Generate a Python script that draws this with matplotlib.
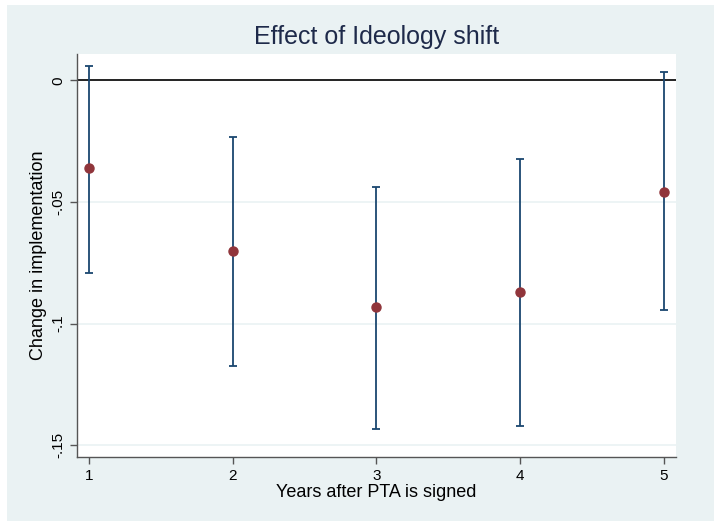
import numpy as np
import matplotlib.pyplot as plt
from matplotlib.patches import Rectangle

# values
years = [1, 2, 3, 4, 5]
effect = [-0.036, -0.070, -0.093, -0.087, -0.046]
ci_low = [-0.079, -0.1175, -0.1434, -0.142, -0.0945]
ci_high = [0.0058, -0.0234, -0.044, -0.0325, 0.0035]
yticks = [0, -0.05, -0.1, -0.15]
ytick_labels = ['0', '-.05', '-.1', '-.15']

plt.rcParams['font.family'] = ['Liberation Sans', 'DejaVu Sans']

bg = '#EAF2F3'
navy = '#1A476F'
maroon = '#90353B'

fig = plt.figure(figsize=(7.14, 5.21), dpi=100)
fig.patch.set_facecolor('white')
fig.add_artist(Rectangle((7 / 714, 0), 1, 516 / 521, transform=fig.transFigure,
                         facecolor=bg, edgecolor='none', zorder=-5))

ax = fig.add_axes([77 / 714, 64 / 521, 599 / 714, 403 / 521])
ax.set_zorder(2)
ax.set_facecolor('white')

effect = np.array(effect)
err = [effect - np.array(ci_low), np.array(ci_high) - effect]

for y in yticks[1:]:
    ax.axhline(y, color=bg, lw=1.2, zorder=1)
ax.axhline(0, color='#222222', lw=1.4, zorder=2)

ax.errorbar(years, effect, yerr=err, fmt='none', ecolor=navy, elinewidth=1.3,
            capsize=3, capthick=1.3, zorder=3)
ax.plot(years, effect, 'o', color=maroon, markersize=6.5, zorder=4)

ax.set_xlim(0.9165, 5.086)
ax.set_ylim(-0.1549, 0.0109)
ax.set_xticks(years)
ax.set_yticks(yticks)
ax.set_yticklabels(ytick_labels, rotation=90, va='center')

for s in ['top', 'right']:
    ax.spines[s].set_visible(False)
for s in ['left', 'bottom']:
    ax.spines[s].set_color('#555555')
    ax.spines[s].set_linewidth(1.0)
ax.tick_params(direction='out', length=5, width=1, color='#555555',
               labelsize=11, labelcolor='black')

ax.set_xlabel('Years after PTA is signed', fontsize=13, labelpad=1)
ax.set_ylabel('Change in implementation', fontsize=13, labelpad=3)
ax.set_title('Effect of Ideology shift', fontsize=18, color='#1E2A4A', pad=7)

fig.savefig('out.png', dpi=100)
